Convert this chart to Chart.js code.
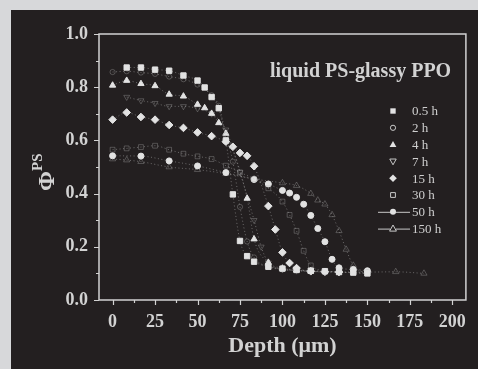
<!DOCTYPE html>
<html lang="en">
<head>
<meta charset="UTF-8"/>
<title>PS volume fraction vs depth</title>
<style>
    html, body {
        margin: 0;
        padding: 0;
        background: #d7d8da;
        overflow: hidden;
    }
    canvas { display: block; }
</style>
</head>
<body>
<canvas id="chart" width="478" height="369"></canvas>

<script src="https://cdn.jsdelivr.net/npm/chart.js"></script>
<script>
// ---- data (depth in um, volume fraction of PS) ----
const depth05 = [8.3, 16.7, 25, 33.3, 41.7, 50, 54.2, 58.3, 62.5, 66.7, 70.8, 75, 79.2, 83.3, 91.7, 100, 108.3, 116.7, 125, 133.3, 141.7, 150];
const phi05   = [0.874, 0.874, 0.866, 0.862, 0.844, 0.825, 0.799, 0.763, 0.721, 0.60, 0.397, 0.222, 0.165, 0.144, 0.125, 0.118, 0.113, 0.110, 0.108, 0.105, 0.103, 0.100];

const depth2 = [0, 8.3, 16.7, 25, 33.3, 41.7, 50, 58.3, 62.5, 66.7, 70.8, 75, 79.2, 83.3, 91.7, 100, 116.7, 133.3, 150];
const phi2   = [0.857, 0.860, 0.855, 0.850, 0.840, 0.830, 0.810, 0.770, 0.730, 0.620, 0.520, 0.350, 0.220, 0.160, 0.125, 0.115, 0.108, 0.105, 0.105];

const depth4 = [0, 8.3, 16.7, 25, 33.3, 41.7, 50, 54.2, 58.3, 62.5, 66.7, 79.2, 83.3, 91.7, 100, 108.3, 116.7];
const phi4   = [0.807, 0.825, 0.813, 0.805, 0.773, 0.766, 0.735, 0.722, 0.701, 0.666, 0.626, 0.382, 0.229, 0.141, 0.119, 0.112, 0.108];

const depth7 = [8.3, 16.7, 25, 33.3, 41.7, 50, 58.3, 66.7, 75, 83.3, 87.5, 91.7, 100, 108.3, 125];
const phi7   = [0.763, 0.750, 0.740, 0.728, 0.728, 0.720, 0.700, 0.640, 0.480, 0.300, 0.200, 0.140, 0.115, 0.110, 0.105];

const depth15 = [0, 8.3, 16.7, 25, 33.3, 41.7, 50, 58.3, 66.7, 70.8, 75, 79.2, 83.3, 91.7, 95.8, 100, 104.2, 108.3, 116.7, 125, 133.3];
const phi15   = [0.678, 0.705, 0.688, 0.678, 0.658, 0.647, 0.630, 0.616, 0.595, 0.576, 0.553, 0.542, 0.503, 0.353, 0.265, 0.179, 0.139, 0.120, 0.108, 0.106, 0.105];

const depth30 = [0, 8.3, 16.7, 25, 33.3, 41.7, 50, 58.3, 66.7, 75, 83.3, 91.7, 100, 104.2, 108.3, 112.5, 116.7, 125, 133.3, 150];
const phi30   = [0.565, 0.570, 0.575, 0.580, 0.565, 0.550, 0.540, 0.530, 0.505, 0.480, 0.455, 0.420, 0.370, 0.320, 0.260, 0.185, 0.130, 0.110, 0.105, 0.100];

const depth50 = [0, 16.7, 33.3, 50, 66.7, 83.3, 91.7, 100, 104.2, 108.3, 112.5, 116.7, 120.8, 125, 129.2, 133.3, 141.7, 150];
const phi50   = [0.542, 0.541, 0.523, 0.504, 0.479, 0.453, 0.436, 0.412, 0.402, 0.386, 0.360, 0.318, 0.269, 0.219, 0.153, 0.121, 0.115, 0.110];

const depth150 = [0, 8.3, 16.7, 33.3, 50, 66.7, 83.3, 100, 108.3, 116.7, 120.8, 125, 129.2, 133.3, 137.5, 141.7, 150, 166.7, 183.3];
const phi150   = [0.530, 0.526, 0.520, 0.500, 0.490, 0.475, 0.455, 0.440, 0.430, 0.400, 0.375, 0.360, 0.320, 0.260, 0.190, 0.130, 0.105, 0.106, 0.100];

const seriesLabels = ['0.5 h', '2 h', '4 h', '7 h', '15 h', '30 h', '50 h', '150 h'];
const xTicks = [0, 25, 50, 75, 100, 125, 150, 175, 200];
const yTicks = [0.0, 0.2, 0.4, 0.6, 0.8, 1.0];

const FG = '#d2d2d2';
const MARK = '#e2e2e2';
const SERIF = "'Liberation Serif', 'DejaVu Serif', serif";

function toPoints(xs, ys) {
    return xs.map((x, i) => ({ x: x, y: ys[i] }));
}

// marker look per series: [pointStyle, filled, radius, rotation]
const markerStyle = [
    ['rect', true, 3.8, 0],
    ['circle', false, 2.6, 0],
    ['triangle', true, 3.6, 0],
    ['triangle', false, 3.4, 180],
    ['rectRot', true, 3.8, 0],
    ['rect', false, 3.4, 0],
    ['circle', true, 3.0, 0],
    ['triangle', false, 3.6, 0]
];

const allX = [depth05, depth2, depth4, depth7, depth15, depth30, depth50, depth150];
const allY = [phi05, phi2, phi4, phi7, phi15, phi30, phi50, phi150];

const datasets = seriesLabels.map((lab, i) => {
    const m = markerStyle[i];
    return {
        label: lab,
        data: toPoints(allX[i], allY[i]),
        pointStyle: m[0],
        pointRadius: m[2],
        pointRotation: m[3],
        pointBackgroundColor: m[1] ? MARK : 'rgba(0,0,0,0)',
        // the open symbols are barely visible in the scan
        pointBorderColor: m[1] ? MARK : 'rgba(170,170,170,0.45)',
        pointBorderWidth: m[1] ? 1 : 0.8,
        borderColor: 'rgba(180,180,180,0.5)',
        borderWidth: 1,
        borderDash: [1, 2.5],
        cubicInterpolationMode: 'monotone',
        showLine: true,
        fill: false
    };
});

// draw a legend marker by hand
function drawMarker(ctx, style, filled, r, rot, x, y) {
    ctx.save();
    ctx.translate(x, y);
    ctx.rotate(rot * Math.PI / 180);
    ctx.beginPath();
    if (style === 'rect') {
        const s = r * Math.SQRT1_2;
        ctx.rect(-s, -s, 2 * s, 2 * s);
    } else if (style === 'rectRot') {
        ctx.moveTo(0, -r); ctx.lineTo(r, 0); ctx.lineTo(0, r); ctx.lineTo(-r, 0); ctx.closePath();
    } else if (style === 'triangle') {
        ctx.moveTo(0, -r); ctx.lineTo(r * 0.95, r * 0.7); ctx.lineTo(-r * 0.95, r * 0.7); ctx.closePath();
    } else {
        ctx.arc(0, 0, r, 0, Math.PI * 2);
    }
    if (filled) { ctx.fillStyle = MARK; ctx.fill(); }
    else { ctx.strokeStyle = '#c8c8c8'; ctx.lineWidth = 1; ctx.stroke(); }
    ctx.restore();
}

const decorPlugin = {
    id: 'decor',
    beforeDraw(chart) {
        const ctx = chart.ctx;
        ctx.save();
        ctx.fillStyle = '#d7d8da';
        ctx.fillRect(0, 0, chart.width, chart.height);
        ctx.fillStyle = '#231f20';
        ctx.fillRect(11, 10, chart.width - 11, chart.height - 10);
        ctx.restore();
    },
    beforeDatasetsDraw(chart) {
        const ctx = chart.ctx;
        const a = chart.chartArea;
        const xs = chart.scales.x, ys = chart.scales.y;
        ctx.save();
        ctx.strokeStyle = FG;
        ctx.lineWidth = 1.5;
        ctx.strokeRect(a.left, a.top, a.right - a.left, a.bottom - a.top);
        ctx.lineWidth = 1.2;
        ctx.beginPath();
        // x ticks: major every 25, minor every 12.5
        for (let v = 0; v <= 200; v += 12.5) {
            const px = Math.round(xs.getPixelForValue(v)) + 0.5;
            const len = (v % 25 === 0) ? 5 : 3;
            ctx.moveTo(px, a.bottom);
            ctx.lineTo(px, a.bottom + len);
        }
        // y ticks: major every 0.2, minor every 0.1
        for (let k = 0; k <= 10; k++) {
            const py = Math.round(ys.getPixelForValue(k / 10)) + 0.5;
            const len = (k % 2 === 0) ? 5 : 3;
            ctx.moveTo(a.left, py);
            ctx.lineTo(a.left - len, py);
        }
        ctx.stroke();
        ctx.restore();
    },
    afterDraw(chart) {
        const ctx = chart.ctx;
        ctx.save();
        ctx.fillStyle = FG;

        // annotation
        ctx.font = 'bold 20px ' + SERIF;
        ctx.textAlign = 'left';
        ctx.textBaseline = 'alphabetic';
        ctx.fillText('liquid PS-glassy PPO', 270, 77);

        // y title: Phi with superscript PS, rotated
        ctx.save();
        ctx.translate(54, 181);
        ctx.rotate(-Math.PI / 2);
        ctx.font = 'bold 24px ' + SERIF;
        ctx.textAlign = 'center';
        ctx.fillText('\u03A6', 0, 0);
        ctx.font = 'bold 15px ' + SERIF;
        ctx.textAlign = 'left';
        ctx.fillText('PS', 10, -12);
        ctx.restore();

        // legend
        ctx.font = '13px ' + SERIF;
        ctx.textAlign = 'left';
        ctx.textBaseline = 'middle';
        const rowY0 = 111, rowStep = 16.8;
        seriesLabels.forEach((lab, i) => {
            const y = rowY0 + i * rowStep;
            const m = markerStyle[i];
            if (i >= 6) {
                ctx.strokeStyle = '#c8c8c8';
                ctx.lineWidth = 1;
                ctx.beginPath();
                ctx.moveTo(378, y + 0.5);
                ctx.lineTo(410, y + 0.5);
                ctx.stroke();
                if (!m[1]) {
                    ctx.fillStyle = '#231f20';
                    ctx.beginPath();
                    ctx.arc(393, y, 3, 0, Math.PI * 2);
                    ctx.fill();
                }
            }
            drawMarker(ctx, m[0], m[1], m[2], m[3], 393, y);
            ctx.fillStyle = '#cfcfcf';
            ctx.fillText(lab, 412, y + 1);
        });
        ctx.restore();
    }
};

new Chart(document.getElementById('chart'), {
    type: 'scatter',
    data: { datasets: datasets },
    options: {
        responsive: false,
        animation: false,
        devicePixelRatio: 1,
        layout: { padding: { left: 0, top: 34, right: 3, bottom: 0 } },
        plugins: {
            legend: { display: false },
            tooltip: { enabled: false }
        },
        scales: {
            x: {
                type: 'linear',
                min: -8,
                max: 208,
                afterFit: s => { s.height = 69; },
                afterBuildTicks: s => { s.ticks = xTicks.map(v => ({ value: v })); },
                grid: { display: false, drawTicks: false },
                border: { display: false },
                ticks: {
                    padding: 12,
                    color: FG,
                    font: { family: SERIF, size: 18, weight: 'bold' },
                    maxRotation: 0,
                    autoSkip: false
                },
                title: {
                    display: true,
                    text: 'Depth (\u03BCm)',
                    color: FG,
                    font: { family: SERIF, size: 22, weight: 'bold' },
                    padding: { top: 0, bottom: 9 }
                }
            },
            y: {
                type: 'linear',
                min: 0,
                max: 1,
                afterFit: s => { s.width = 99; },
                afterBuildTicks: s => { s.ticks = yTicks.map(v => ({ value: v })); },
                grid: { display: false, drawTicks: false },
                border: { display: false },
                ticks: {
                    padding: 11,
                    color: FG,
                    font: { family: SERIF, size: 18, weight: 'bold' },
                    callback: v => Number(v).toFixed(1)
                }
            }
        }
    },
    plugins: [decorPlugin]
});
</script>
</body>
</html>
